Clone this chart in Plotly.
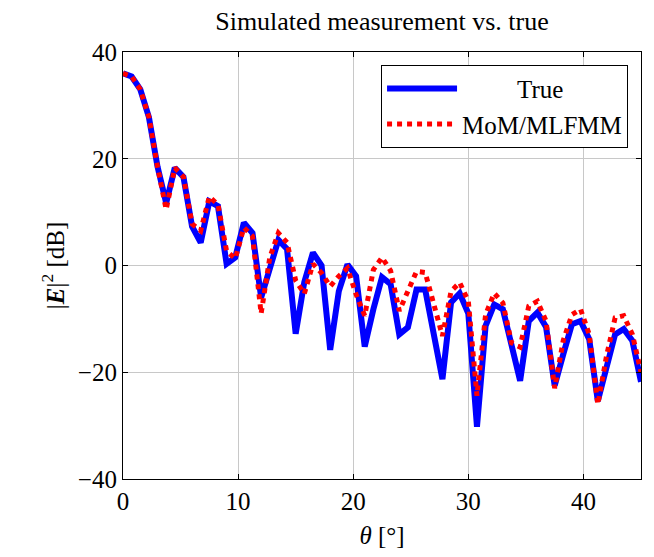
import plotly.graph_objs as go

# angle grid, 0.75 deg step
theta = [i * 0.75 for i in range(61)]

true_db = [36.0, 35.4, 33.0, 27.8, 18.5, 11.7, 18.3, 16.6, 7.3, 4.3,
           12.0, 11.1, 0.3, 1.5, 8.0, 6.1, -6.0, -0.7, 4.8, 3.1,
           -12.8, -3.1, 2.4, 0.0, -15.8, -4.8, 0.2, -2.0, -15.2, -8.2,
           -2.2, -3.5, -12.9, -11.6, -4.5, -4.5, -12.5, -21.3, -6.9, -5.2,
           -9.0, -30.2, -11.3, -7.3, -8.2, -15.1, -21.6, -10.4, -8.8, -11.5,
           -22.5, -16.6, -11.0, -10.4, -13.8, -25.4, -19.2, -12.9, -11.9, -14.1,
           -21.8]

mom_db = [36.0, 35.4, 33.0, 27.8, 18.5, 10.5, 18.3, 16.6, 7.8, 6.5,
          12.9, 11.4, 2.7, 1.3, 7.1, 5.5, -9.0, 1.5, 6.1, 4.3,
          -2.8, -5.3, 0.3, -1.4, -3.9, -2.0, -0.5, -5.4, -9.4, -0.8,
          1.5, -1.0, -8.5, -4.8, -1.1, -1.3, -7.6, -13.2, -4.8, -3.2,
          -6.7, -24.4, -9.2, -5.2, -7.0, -14.5, -15.3, -7.6, -6.7, -10.4,
          -23.0, -14.0, -9.2, -8.2, -12.9, -26.0, -17.0, -9.8, -9.4, -12.9,
          -20.0]

fig = go.Figure()

fig.add_trace(go.Scatter(x=theta, y=true_db, mode='lines',
                         name='\u2002\u2002\u2002\u2002\u2009True',
                         line=dict(color='#0000ff', width=6)))
fig.add_trace(go.Scatter(x=theta, y=mom_db, mode='lines',
                         name='MoM/MLFMM',
                         line=dict(color='#ff0000', width=5, dash='dot')))

axis_style = dict(showline=True, linecolor='black', linewidth=1.2, mirror='allticks',
                  ticks='inside', ticklen=5, tickcolor='black',
                  showgrid=True, gridcolor='#c8c8c8', gridwidth=1,
                  zeroline=False, tickfont=dict(size=25))

fig.update_layout(
    width=646, height=549,
    margin=dict(l=115, r=13, t=44, b=76),
    paper_bgcolor='white', plot_bgcolor='white',
    font=dict(family='Liberation Serif, Times New Roman, serif', color='black'),
    title=dict(text='Simulated measurement vs. true', x=0.5, xref='paper', xanchor='center',
               y=0.976, yanchor='middle', font=dict(size=26)),
    xaxis=dict(range=[0, 45], tickvals=[0, 10, 20, 30, 40],
               title=dict(text='<i>θ</i> [°]', font=dict(size=25), standoff=12),
               **axis_style),
    yaxis=dict(range=[-40, 40], tickvals=[-40, -20, 0, 20, 40],
               title=dict(text='|<b><i>E</i></b>|<sup>2</sup> [dB]', font=dict(size=25),
                          standoff=6),
               **axis_style),
    legend=dict(x=0.975, y=0.97, xanchor='right', yanchor='top',
                bordercolor='black', borderwidth=1, bgcolor='white',
                font=dict(size=25), tracegroupgap=0, itemwidth=70),
    showlegend=True,
)

fig.write_html("out.html")
